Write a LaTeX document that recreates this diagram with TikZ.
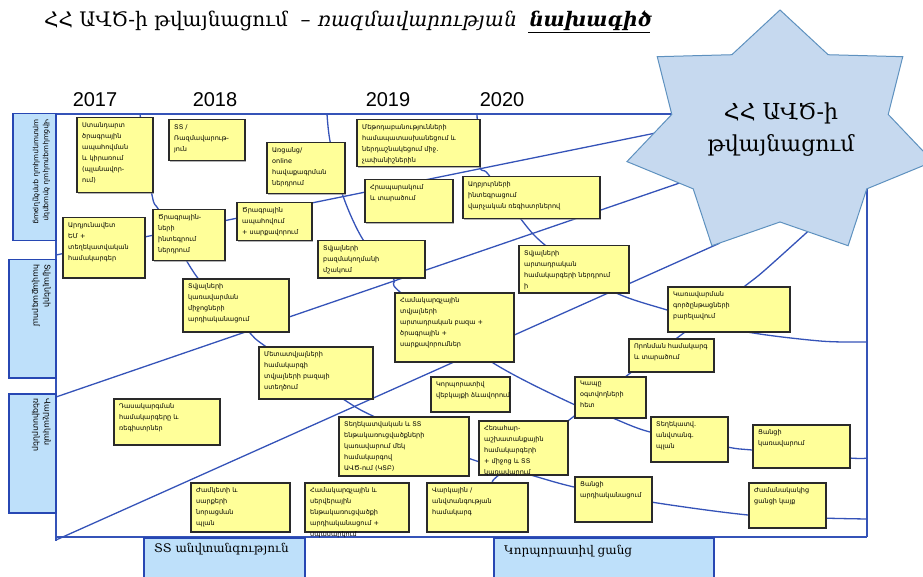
\documentclass[tikz,border=0pt]{standalone}
\usepackage{fontspec}
\setmainfont{DejaVu Sans}
\newfontfamily\armserif{DejaVu Serif}
\newfontfamily\armsl[FakeSlant=0.2]{DejaVu Serif}
\newfontfamily\armbsl[FakeSlant=0.2]{DejaVu Serif Bold}
\newfontfamily\yearfont{Liberation Sans}
\usetikzlibrary{shadows}
\definecolor{lanec}{HTML}{3553B8}
\definecolor{yfill}{HTML}{FFFF99}
\definecolor{yedge}{HTML}{2A2A2A}
\definecolor{lblfill}{HTML}{BEE0FA}
\definecolor{lbledge}{HTML}{2747B3}
\definecolor{starfill}{HTML}{C6D9EF}
\definecolor{staredge}{HTML}{5E91BF}
\tikzset{
 lane/.style={draw=lanec, line width=1.3pt},
 frameline/.style={draw=lanec, line width=1.5pt},
 ybox/.style={draw=yedge, fill=yfill, line width=1.5pt, inner sep=0pt,
   drop shadow={shadow xshift=1.5pt, shadow yshift=-1.5pt, fill=black!50, opacity=0.6}},
 btext/.style={font=\fontsize{6.5}{11}\selectfont, align=left, inner xsep=6pt, inner ysep=5pt, text=black},
 lbl/.style={draw=lbledge, fill=lblfill, line width=1.5pt, inner sep=0pt},
 lbltext/.style={font=\fontsize{8}{11}\selectfont, align=left, rotate=-90, anchor=north west, inner sep=2pt},
 bottext/.style={font=\armserif\fontsize{12}{14}\selectfont, anchor=west, inner sep=0pt},
 yeartext/.style={font=\yearfont\fontsize{20}{24}\selectfont, anchor=base, inner sep=0pt},
 starsty/.style={draw=staredge, fill=starfill, line width=1pt},
}
\newcommand\ybx[6]{%
 \node[ybox, minimum width=#4pt, minimum height=#5pt, anchor=north west] (#1) at (#2,#3) {};
 \node[btext, anchor=north west] (#1t) at (#1.north west) {#6};}
\newcommand\lbx[5]{%
 \node[lbl, minimum width=#4pt, minimum height=#5pt, anchor=north west] (#1) at (#2,#3) {};}
\begin{document}
\begin{tikzpicture}[x=1pt,y=-1pt]
\useasboundingbox (0,0) rectangle (923,577);
% title
\node[anchor=base west, inner sep=0pt, font=\armserif\fontsize{20}{24}\selectfont] (title) at (44,27)
 {ՀՀ ԱՎԾ-ի թվայնացում \ – {\armsl ռազմավարության}\ \ {\armbsl\underline{նախագիծ}}};
% years
\node[yeartext] (y17) at (95,107) {2017};
\node[yeartext] (y18) at (215,107) {2018};
\node[yeartext] (y19) at (388,107) {2019};
\node[yeartext] (y20) at (502,107) {2020};
% frame
\coordinate (ftl) at (56,114);
\coordinate (ftr) at (700,114);
\coordinate (fbl) at (56,537);
\coordinate (fbr) at (867,537);
\coordinate (frt) at (867,185);
\draw[frameline] (ftl) -- (ftr);
\draw[frameline] (ftl) -- (56,541);
\draw[frameline] (fbl) -- (fbr);
\draw[frameline] (frt) -- (fbr);
% lanes to star
\coordinate (la0) at (56,255); \coordinate (la1) at (700,124);
\coordinate (lb0) at (56,397); \coordinate (lb1) at (700,176);
\coordinate (lc0) at (56,540); \coordinate (lc1) at (720,243);
\draw[lane] (la0) -- (la1);
\draw[lane] (lb0) -- (lb1);
\draw[lane] (lc0) -- (lc1);
% year curves
\draw[lane] plot[smooth, tension=0.5] coordinates {(140,114) (152,195) (160,212) (197,277) (248,331) (265,346) (343,399) (375,417) (468,458) (527,474) (574,487) (651,502) (748,515) (820,518) (867,519)};
\draw[lane] plot[smooth, tension=0.5] coordinates {(327,114) (330,141) (342,193) (362,238) (393,278) (400,292) (490,361) (573,404) (610,417) (650,432) (727,447) (752,450) (849,458) (867,458)};
\draw[lane] plot[smooth, tension=0.5] coordinates {(477,114) (480,166) (488,174) (520,218) (545,245) (610,290) (667,310) (742,331) (820,341) (867,342)};
\draw[lane] plot[smooth, tension=0.5] coordinates {(815,225) (765,270) (745,286) (685,332) (633,371) (573,417) (500,474) (493,482)};
% yellow boxes
\ybx{b1}{76}{117}{76}{75}{Ստանդարտ\\ծրագրային\\ապահովման\\և կիրառում\\(պլանավոր-\\ում)}
\ybx{b2}{168}{119}{76}{41}{ՏՏ /\\Ռազմավարութ-\\յուն}
\ybx{b3}{266}{142}{78}{51}{Առցանց/\\online\\հավաքագրման\\ներդրում}
\ybx{b4}{356}{119}{123}{47}{Մեթոդաբանությունների\\համապատասխանեցում և\\ներդաշնակեցում միջ.\\չափանիշներին}
\ybx{b5}{236}{202}{75}{38}{Ծրագրային\\ապահովում\\+ սարքավորում}
\ybx{b6}{364}{179}{88}{43}{Հրապարակում\\և տարածում}
\ybx{b7}{462}{176}{137}{42}{Աղբյուրների\\ինտեգրացում\\վարչական ռեգիստրներով}
\ybx{b8}{62}{217}{82}{60}{Արդյունավետ\\ԵՄ +\\տեղեկատվական\\համակարգեր}
\ybx{b9}{152}{209}{72}{51}{Ծրագրային-\\ների\\ինտեգրում\\ներդրում}
\ybx{b10}{317}{240}{107}{37}{Տվյալների\\բազմակողմանի\\մշակում}
\ybx{b11}{518}{245}{110}{47}{Տվյալների\\արտադրական\\համակարգերի ներդրում\\ի}
\ybx{b12}{182}{278}{106}{53}{Տվյալների\\կառավարման\\միջոցների\\արդիականացում}
\ybx{b13}{394}{292}{119}{69}{Համակարգչային\\տվյալների\\արտադրական բազա +\\ծրագրային +\\սարքավորումներ}
\ybx{b14}{667}{286}{122}{45}{Կառավարման\\գործընթացների\\բարելավում}
\ybx{b15}{258}{346}{114}{52}{Մետատվյալների\\համակարգի\\տվյալների բազայի\\ստեղծում}
\ybx{b16}{628}{338}{85}{33}{Որոնման համակարգ\\և տարածում}
\ybx{b17}{113}{398}{106}{46}{Դասակարգման\\համակարգերը և\\ռեգիստրներ}
\ybx{b18}{430}{376}{79}{35}{Կորպորատիվ\\վեբկայքի ձևավորում}
\ybx{b19}{574}{376}{71}{41}{Կապը\\օգտվողների\\հետ}
\ybx{b20}{338}{416}{130}{59}{Տեղեկատվական և ՏՏ\\ենթակառուցվածքների\\կառավարում մեկ\\համակարգով\\ԱՎԾ-ում (ԿՏԲ)}
\ybx{b21}{478}{420}{89}{54}{Հեռահար-\\աշխատանքային\\համակարգերի\\+ միջոց և ՏՏ\\կառավարում}
\ybx{b22}{650}{416}{77}{45}{Տեղեկատվ.\\անվտանգ.\\պլան}
\ybx{b23}{752}{424}{97}{43}{Ցանցի\\կառավարում}
\ybx{b24}{190}{482}{99}{49}{Ժամկետի և\\սարքերի\\նորացման\\պլան}
\ybx{b25}{304}{482}{104}{49}{Համակարգչային և\\սերվերային\\ենթակառուցվածքի\\արդիականացում +\\սպասարկում}
\ybx{b26}{426}{482}{101}{49}{Վարկային /\\անվտանգության\\համակարգ}
\ybx{b27}{574}{476}{77}{45}{Ցանցի\\արդիականացում}
\ybx{b28}{748}{482}{77}{45}{Ժամանակակից\\ցանցի կայք}
% star
\foreach \k in {0,...,6}{
 \coordinate (so\k) at ([shift={(780,134)}] -90+51.4286*\k:157 and 124);
 \coordinate (si\k) at ([shift={(780,134)}] -64.2857+51.4286*\k:111 and 88);
}
\draw[starsty] (so0) -- (si0) -- (so1) -- (si1) -- (so2) -- (si2) -- (so3) -- (si3) -- (so4) -- (si4) -- (so5) -- (si5) -- (so6) -- (si6) -- cycle;
\node[align=center, inner sep=0pt, font=\armserif\fontsize{22}{32}\selectfont] (stxt) at (781,130) {ՀՀ ԱՎԾ-ի\\թվայնացում};
% left labels
\lbx{l1}{12}{113}{43}{127}
\lbx{l2}{8}{259}{47}{118}
\lbx{l3}{8}{393}{47}{119}
\node[lbltext, font=\fontsize{7.2}{10}\selectfont] (l1t) at (52,117) {Վիճակագրական ծրագրեր\\արտադրական գործընթաց};
\node[lbltext] (l2t) at (53,262) {Տվյալների\\հավաքագրում};
\node[lbltext] (l3t) at (53,396) {Վարչական\\ռեգիստրներ};
% bottom labels
\lbx{p1}{143}{537}{161}{50}
\lbx{p2}{493}{537}{220}{50}
\node[bottext] (p1t) at (154,549) {ՏՏ անվտանգություն};
\node[bottext] (p2t) at (504,551) {Կորպորատիվ ցանց};
\end{tikzpicture}
\end{document}
